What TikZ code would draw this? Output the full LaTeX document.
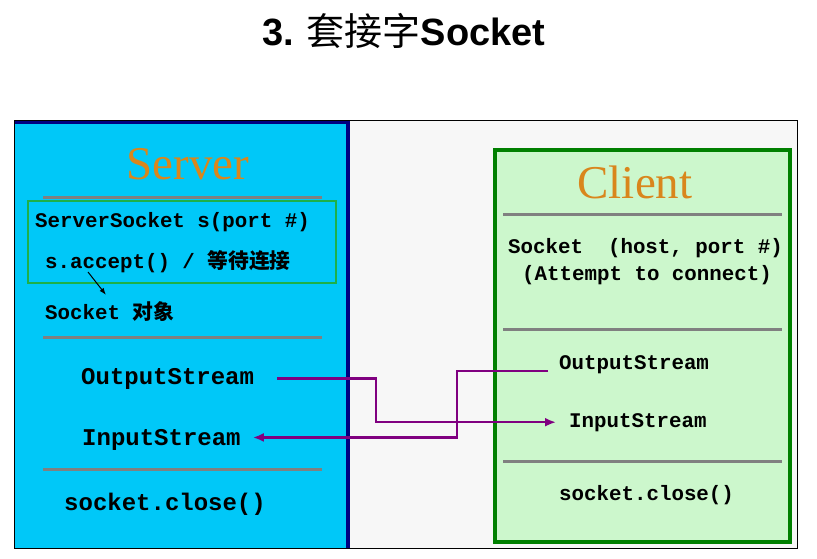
\documentclass[tikz,border=0pt]{standalone}
\usepackage{fontspec}
\setmainfont{Liberation Serif}
\setmonofont{Liberation Mono}
\newfontfamily\cjk{Noto Sans CJK SC}
\newfontfamily\arial{Liberation Sans}
\usepackage{tikz}
\usetikzlibrary{arrows.meta}

\definecolor{srvblue}{RGB}{0,200,248}
\definecolor{srvedge}{RGB}{0,0,128}
\definecolor{cligreen}{RGB}{204,247,204}
\definecolor{cliedge}{RGB}{0,128,0}
\definecolor{acceptgreen}{RGB}{30,176,72}
\definecolor{headorange}{RGB}{217,134,28}
\definecolor{sepgray}{RGB}{128,128,128}
\definecolor{flowpurple}{RGB}{128,0,128}
\definecolor{panelgray}{RGB}{247,247,247}

\begin{document}
\begin{tikzpicture}[
  x=1pt, y=-1pt, >={Latex[length=11pt,width=9pt]},
  code/.style={font=\ttfamily\bfseries\fontsize{20.8}{24}\selectfont, inner sep=0pt, anchor=base west},
  bigcode/.style={code, font=\ttfamily\bfseries\fontsize{24}{28}\selectfont},
  head/.style={font=\fontsize{47}{50}\selectfont, text=headorange, inner sep=0pt, anchor=base},
  sepline/.style={draw=sepgray, line width=3pt},
  flow/.style={->, draw=flowpurple, line width=2.5pt}
]
\useasboundingbox (0,0) rectangle (817,558);

% Title
\node[font=\fontsize{38}{42}\selectfont, inner sep=0pt, anchor=base] (title) at (404,45)
  {{\arial\bfseries 3.} {\cjk 套接字}{\arial\bfseries Socket}};

% Panel and the two boxes
\draw[fill=panelgray, draw=black, line width=1pt] (14,120) rectangle (797,548);
\fill[srvblue] (15,121) rectangle (349,548);
\draw[srvedge, line width=3.5pt] (15,122.5) -- (348,122.5) -- (348,548);
\draw[fill=cligreen, draw=cliedge, line width=4pt] (495,150) rectangle (790,542);

% Server side
\node[head] (server) at (188,179) {Server};
\draw[sepline] (43,197) -- (322,197);
\draw[draw=acceptgreen, line width=2pt] (28,201) rectangle (336,283);
\node[code] (ssock) at (35,227) {ServerSocket s(port \#)};
\node[code] (accept) at (45,268) {s.accept() / {\cjk 等待连接}};
\node[code] (sockobj) at (45,319) {Socket {\cjk 对象}};
\draw[sepline] (43,337) -- (322,337);
\node[bigcode] (sout) at (81,384) {OutputStream};
\node[bigcode] (sin) at (82,445) {InputStream};
\draw[sepline] (43,469) -- (322,469);
\node[bigcode] (sclose) at (64,510) {socket.close()};

% Client side
\node[head] (client) at (635,198) {Client};
\draw[sepline] (503,214) -- (782,214);
\node[code] (csock) at (508,253) {Socket\ \ (host, port \#)};
\node[code] (attempt) at (522,280) {(Attempt to connect)};
\draw[sepline] (503,329) -- (782,329);
\node[code] (cout) at (559,369) {OutputStream};
\node[code] (cin) at (569,427) {InputStream};
\draw[sepline] (503,461) -- (782,461);
\node[code] (cclose) at (559,500) {socket.close()};

% Arrows
\draw[-{Latex[length=7pt,width=5pt]}, line width=1pt] ([xshift=43pt,yshift=-4pt]accept.base west) -- ([xshift=61pt,yshift=6pt]sockobj.north west);
\draw[flow] ([xshift=23pt]sout.east) -- ++(99,0) |- ([xshift=-13pt]cin.west);
\draw[flow] ([xshift=-11pt,yshift=-7pt]cout.west) -- ++(-91,0) |- ([xshift=12pt,yshift=2pt]sin.east);

\end{tikzpicture}
\end{document}
